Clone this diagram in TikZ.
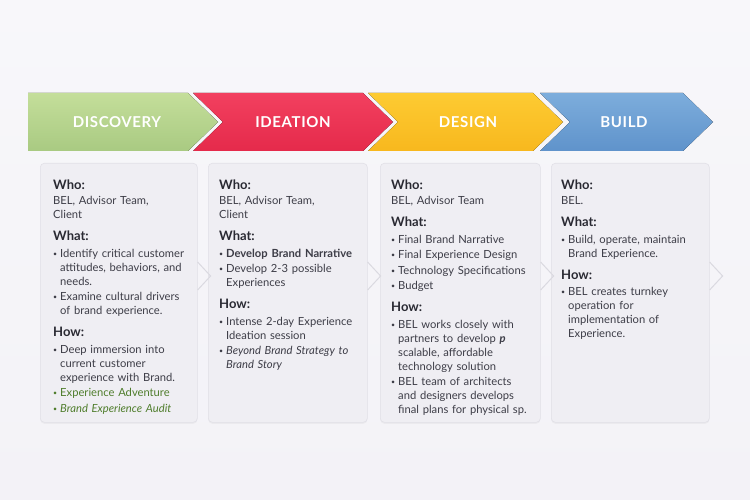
\documentclass[tikz,border=0pt]{standalone}
\usepackage{fontspec}
\setmainfont{Lato}
\usetikzlibrary{shadows}

% colours
\definecolor{bgc}{HTML}{F3F2F7}
\definecolor{cardfill}{HTML}{EFEEF3}
\definecolor{cardline}{HTML}{E1E0E7}
\definecolor{notchc}{HTML}{DAD9E0}
\definecolor{txtc}{HTML}{3D3D47}
\definecolor{headc}{HTML}{2A2A33}
\definecolor{howgreen}{HTML}{4F7D2C}
\definecolor{gtop}{HTML}{C4DE9A}
\definecolor{gbot}{HTML}{A9CA82}
\definecolor{rtop}{HTML}{F2405F}
\definecolor{rbot}{HTML}{E52A4B}
\definecolor{ytop}{HTML}{FDCB32}
\definecolor{ybot}{HTML}{F8B81E}
\definecolor{btop}{HTML}{7DADDC}
\definecolor{bbot}{HTML}{5F93CB}

% card text helpers
\newcommand{\nl}{\hfil\break}
\newcommand{\hd}[2][7pt]{\par\vspace{#1}{\fontsize{13}{15}\selectfont\bfseries\color{headc}#2\par}\vspace{1pt}}
\newcommand{\itm}[1]{\par\vspace{1.5pt}\hangindent=7pt\hangafter=1\noindent\makebox[7pt][l]{\raisebox{0.2ex}{\fontsize{7}{7}\selectfont\textbullet}}{#1}\par}

\begin{document}
\begin{tikzpicture}[x=1pt,y=-1pt,
  tag/.style={text=white, font=\fontsize{15}{15}\selectfont\bfseries\addfontfeature{LetterSpace=4}},
  card/.style={draw=cardline, fill=cardfill, rounded corners=4pt, line width=0.6pt,
    anchor=north west, minimum height=259pt, inner sep=0pt,
    drop shadow={opacity=0.07, shadow xshift=0pt, shadow yshift=-1.5pt}},
  body/.style={anchor=north west, inner sep=0pt, align=left, text width=150pt,
    text=txtc, font=\fontsize{11.2}{14}\selectfont},
  notch/.style={draw=notchc, line width=1pt}]

\useasboundingbox (0,0) rectangle (750,500);
\shade[top color=bgc!60!white, bottom color=bgc] (0,0) rectangle (750,500);

% banner
\fill[top color=gtop, bottom color=gbot] (28,93) -- (188,93) -- (218,122) -- (188,151) -- (28,151) -- cycle;
\fill[top color=rtop, bottom color=rbot] (193,93) -- (363,93) -- (393,122) -- (363,151) -- (193,151) -- (223,122) -- cycle;
\fill[top color=ytop, bottom color=ybot] (368,93) -- (533,93) -- (563,122) -- (533,151) -- (368,151) -- (398,122) -- cycle;
\fill[top color=btop, bottom color=bbot] (540,93) -- (683,93) -- (713,122) -- (683,151) -- (540,151) -- (570,122) -- cycle;

\node[tag] (disc) at (117,122) {DISCOVERY};
\node[tag] (idea) at (293,122) {IDEATION};
\node[tag] (desg) at (468,122) {DESIGN};
\node[tag] (bld)  at (624,122) {BUILD};

% cards
\node[card, minimum width=157pt] (c1) at (40,163) {};
\node[card, minimum width=159pt] (c2) at (208,163) {};
\node[card, minimum width=160pt] (c3) at (380,163) {};
\node[card, minimum width=158pt] (c4) at (551,163) {};

\foreach \c in {c1,c2,c3,c4}
  \draw[notch] ([yshift=-99pt]\c.north east) -- ++(13,14) -- ++(-13,14);

% card texts
\node[body] (t1) at (53,174.5) {%
  \hd[0pt]{Who:}
  BEL, Advisor Team,\nl Client\par
  \hd{What:}
  \itm{Identify critical customer\nl attitudes, behaviors, and\nl needs.}
  \itm{Examine cultural drivers\nl of brand experience.}
  \hd{How:}
  \itm{Deep immersion into\nl current customer\nl experience with Brand.}
  {\color{howgreen}\itm{Experience Adventure}}
  {\color{howgreen}\itm{\itshape Brand Experience Audit}}};

\node[body] (t2) at (219,174.5) {%
  \hd[0pt]{Who:}
  BEL, Advisor Team,\nl Client\par
  \hd{What:}
  \itm{\bfseries Develop Brand Narrative}
  \itm{Develop 2-3 possible\nl Experiences}
  \hd{How:}
  \itm{Intense 2-day Experience\nl Ideation session}
  \itm{\itshape Beyond Brand Strategy to\nl Brand Story}};

\node[body] (t3) at (391,174.5) {%
  \hd[0pt]{Who:}
  BEL, Advisor Team\par
  \hd{What:}
  \itm{Final Brand Narrative}
  \itm{Final Experience Design}
  \itm{Technology Specifications}
  \itm{Budget}
  \hd{How:}
  \itm{BEL works closely with\nl partners to develop \textbf{\textit{p}}\nl scalable, affordable\nl technology solution}
  \itm{BEL team of architects\nl and designers develops\nl final plans for physical sp.}};

\node[body] (t4) at (561,174.5) {%
  \hd[0pt]{Who:}
  BEL.\par
  \hd{What:}
  \itm{Build, operate, maintain\nl Brand Experience.}
  \hd{How:}
  \itm{BEL creates turnkey\nl operation for\nl implementation of\nl Experience.}};
\end{tikzpicture}
\end{document}
